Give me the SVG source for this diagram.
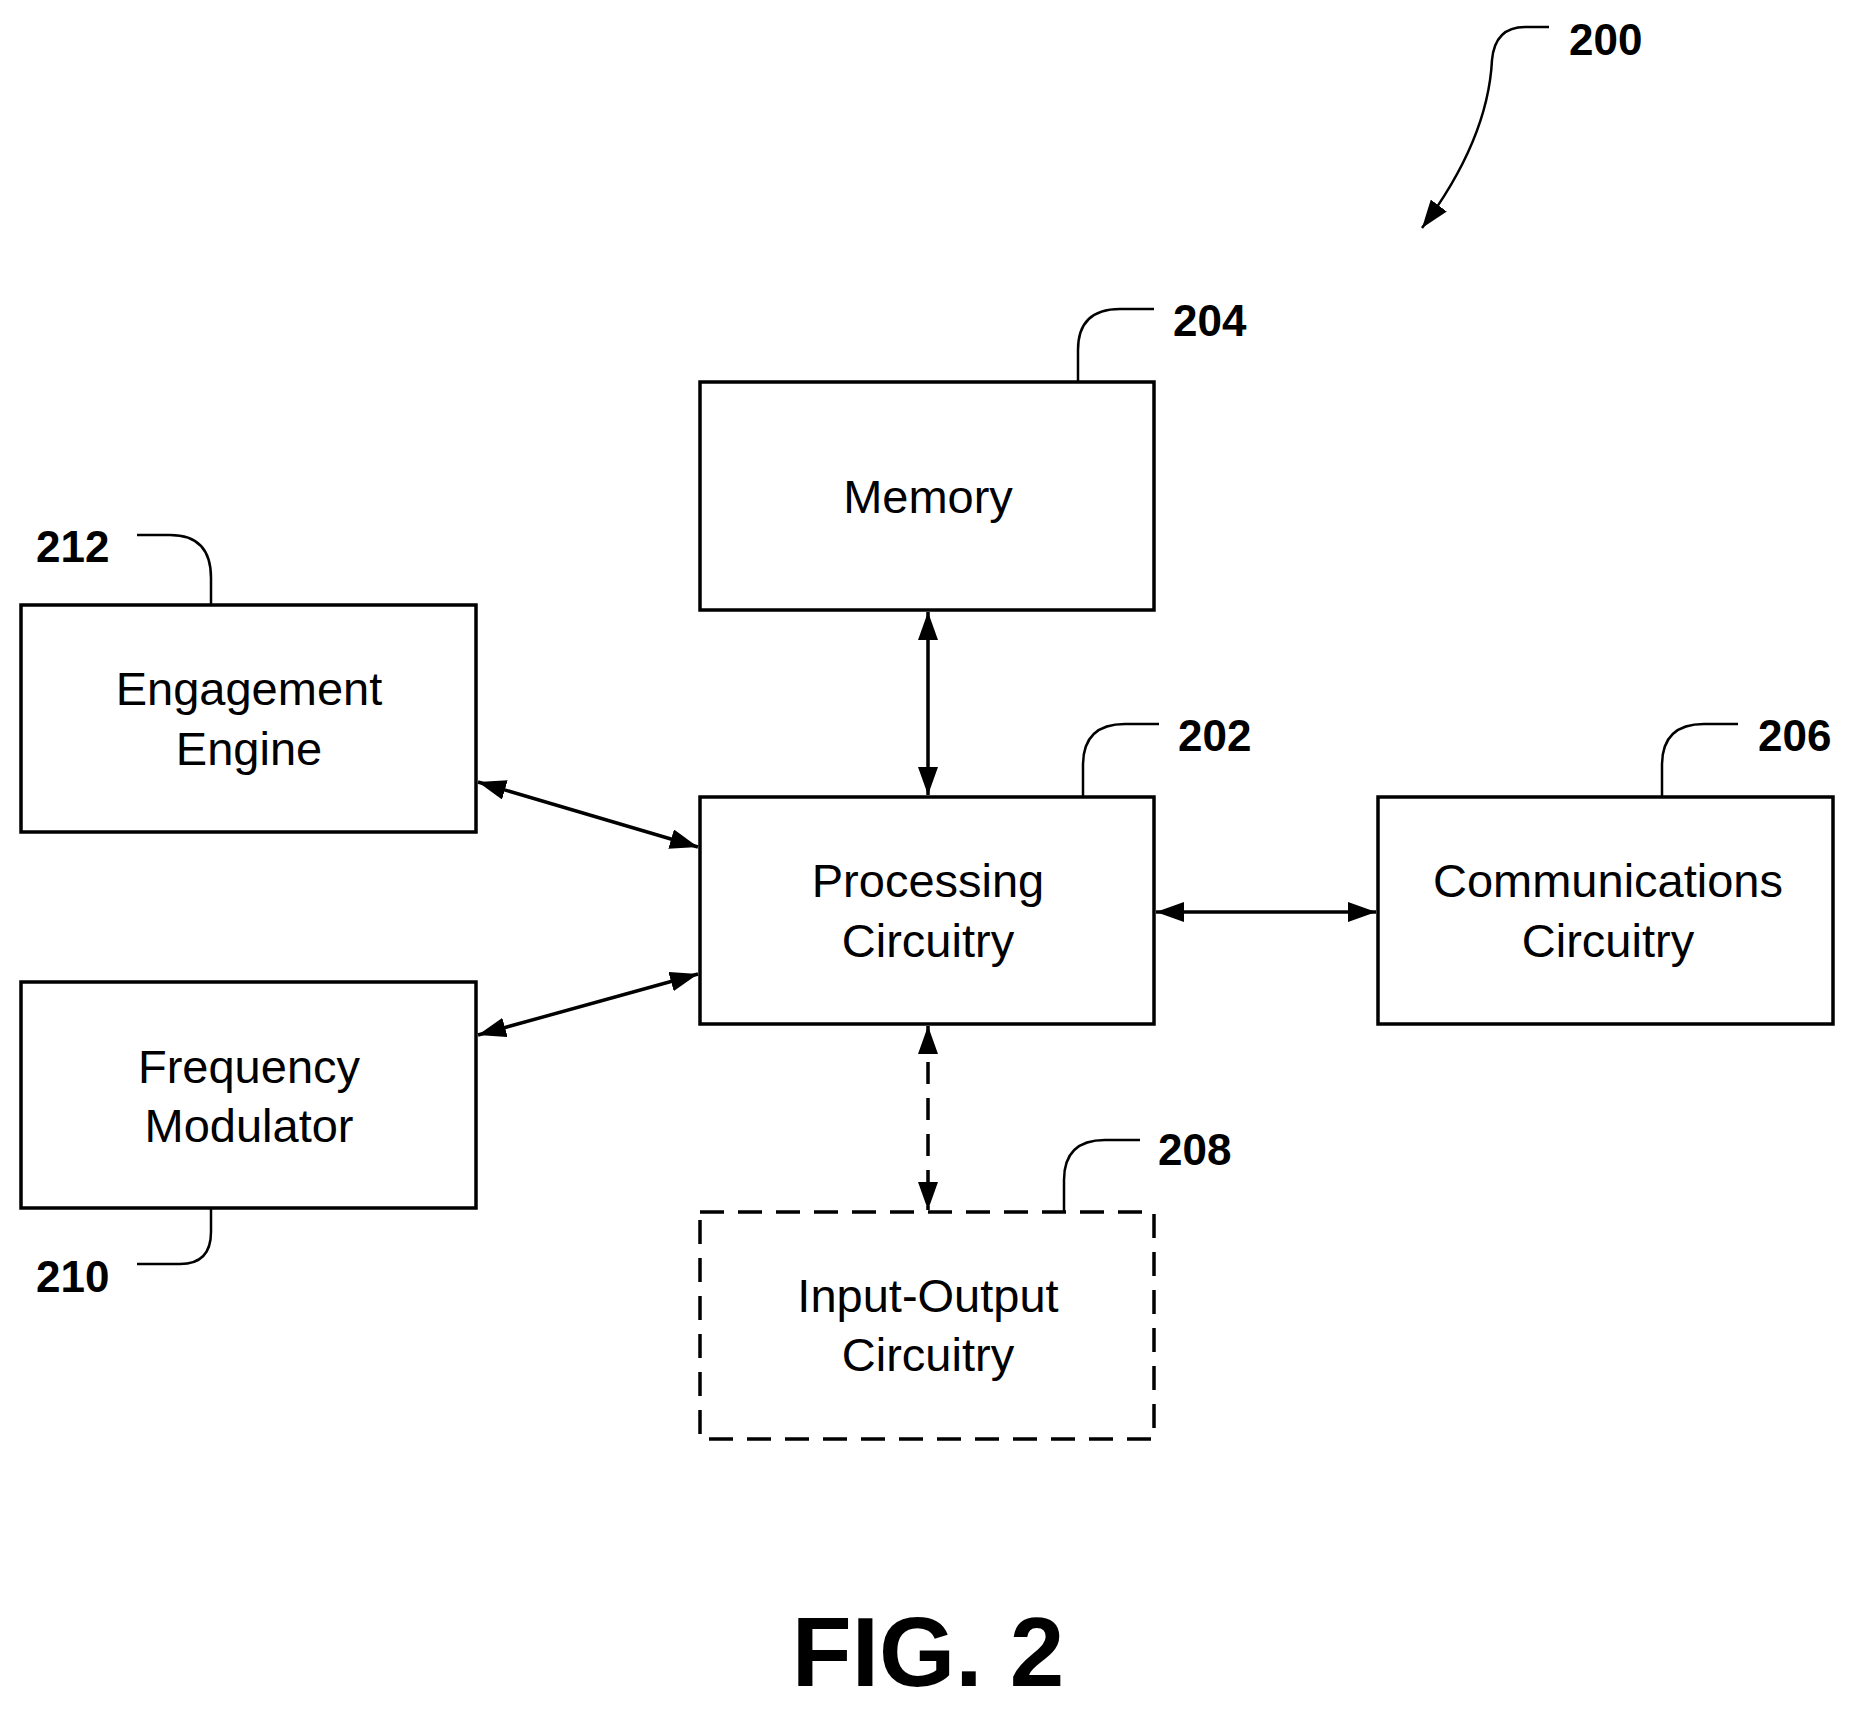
<svg xmlns="http://www.w3.org/2000/svg" width="1852" height="1714" viewBox="0 0 1852 1714">
<style>
.box{fill:#fff;stroke:#000;stroke-width:3.5}
.t{font-family:"Liberation Sans",Arial,sans-serif;font-size:47px;text-anchor:middle;fill:#000}
.n{font-family:"Liberation Sans",Arial,sans-serif;font-size:44px;font-weight:bold;fill:#000}
.c{fill:none;stroke:#000;stroke-width:3.5}
.l{fill:none;stroke:#000;stroke-width:2.5}
</style>
<defs>
<marker id="a" viewBox="0 0 28 20" refX="28" refY="10" markerWidth="28" markerHeight="20" markerUnits="userSpaceOnUse" orient="auto-start-reverse"><path d="M0,0 L28,10 L0,20 Z" fill="#000"/></marker>
</defs>
<rect width="1852" height="1714" fill="#fff"/>
<g id="memory"><rect class="box" x="700" y="382" width="454" height="228"/><text class="t" x="928" y="513">Memory</text></g>
<g id="engagement"><rect class="box" x="21" y="605" width="455" height="227"/><text class="t" x="249" y="705">Engagement</text><text class="t" x="249" y="765">Engine</text></g>
<g id="processing"><rect class="box" x="700" y="797" width="454" height="227"/><text class="t" x="928" y="897">Processing</text><text class="t" x="928" y="957">Circuitry</text></g>
<g id="communications"><rect class="box" x="1378" y="797" width="455" height="227"/><text class="t" x="1608" y="897">Communications</text><text class="t" x="1608" y="957">Circuitry</text></g>
<g id="frequency"><rect class="box" x="21" y="982" width="455" height="226"/><text class="t" x="249" y="1083">Frequency</text><text class="t" x="249" y="1142">Modulator</text></g>
<g id="io"><rect class="box" x="700" y="1212" width="454" height="227" stroke-dasharray="24,14"/><text class="t" x="928" y="1312">Input-Output</text><text class="t" x="928" y="1371">Circuitry</text></g>
<g id="connectors">
<line class="c" x1="928" y1="612" x2="928" y2="795" marker-start="url(#a)" marker-end="url(#a)"/>
<line class="c" x1="478" y1="782" x2="698" y2="847" marker-start="url(#a)" marker-end="url(#a)"/>
<line class="c" x1="478" y1="1035" x2="698" y2="974" marker-start="url(#a)" marker-end="url(#a)"/>
<line class="c" x1="1156" y1="912" x2="1376" y2="912" marker-start="url(#a)" marker-end="url(#a)"/>
<line class="c" x1="928" y1="1026" x2="928" y2="1210" stroke-dasharray="22,14" marker-start="url(#a)" marker-end="url(#a)"/>
</g>
<g id="labels">
<path class="l" d="M1078,382 V350 Q1078,309 1120,309 H1154"/><text class="n" x="1173" y="336">204</text>
<path class="l" d="M1083,797 V765 Q1083,724 1125,724 H1159"/><text class="n" x="1178" y="751">202</text>
<path class="l" d="M1662,797 V765 Q1662,724 1704,724 H1738"/><text class="n" x="1758" y="751">206</text>
<path class="l" d="M211,605 V578 Q211,535 170,535 H137"/><text class="n" x="36" y="562">212</text>
<path class="l" d="M211,1208 V1232 Q211,1264 180,1264 H137"/><text class="n" x="36" y="1292">210</text>
<path class="l" d="M1064,1212 V1180 Q1064,1140 1105,1140 H1140"/><text class="n" x="1158" y="1165">208</text>
<path class="l" d="M1549,27 H1525 Q1495,27 1492,60 Q1488,140 1422,228" marker-end="url(#a)"/><text class="n" x="1569" y="55">200</text>
<text x="928" y="1686" font-family="Liberation Sans,Arial,sans-serif" font-size="98" font-weight="bold" text-anchor="middle">FIG. 2</text>
</g>
</svg>
